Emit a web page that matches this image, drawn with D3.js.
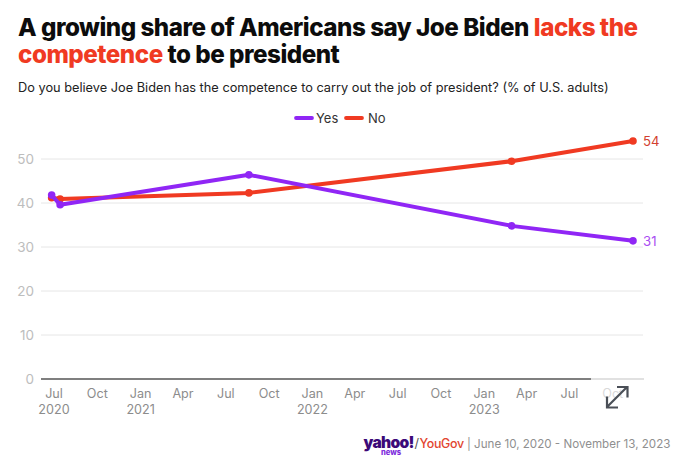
<!DOCTYPE html>
<html><head><meta charset="utf-8">
<script src="https://cdn.jsdelivr.net/npm/d3@7/dist/d3.min.js"></script>
<style>
html,body{margin:0;padding:0;background:#fff;overflow:hidden}
svg{display:block}
text{font-family:Inter,"Noto Sans",sans-serif}
</style></head><body><svg id="c" width="690" height="470"></svg>
<script>
const dates = ["2020-06-26","2020-07-14","2021-08-19","2023-02-28","2023-11-13"];
const yesValues = [41.8,39.6,46.4,34.8,31.4];
const noValues = [41.2,40.9,42.3,49.5,54.1];
const yTicks = [0,10,20,30,40,50];
const xTickDates = ["2020-07-01","2020-10-01","2021-01-01","2021-04-01","2021-07-01","2021-10-01","2022-01-01","2022-04-01","2022-07-01","2022-10-01","2023-01-01","2023-04-01","2023-07-01","2023-10-01"];
const xTickMonths = ["Jul","Oct","Jan","Apr","Jul","Oct","Jan","Apr","Jul","Oct","Jan","Apr","Jul","Oct"];
const xTickYears = ["2020","","2021","","","","2022","","","","2023","","",""];
const seriesNames = ["Yes","No"];
const seriesColors = ["#9026f5","#f03a22"];
const labelColors = ["#a94cf2","#d23f30"];

const svg = d3.select("#c");
const parse = d3.utcParse("%Y-%m-%d");
const x = d3.scaleUtc().domain([parse("2020-07-01"),parse("2023-11-13")]).range([54,633]);
const y = d3.scaleLinear().domain([0,50]).range([379,159]);

// title
const t1 = svg.append("text").attr("x",18).attr("y",36).attr("font-size",24.2).attr("font-weight",800).attr("letter-spacing",-0.49).attr("fill","#0c0c0c");
t1.append("tspan").text("A growing share of Americans say Joe Biden ");
t1.append("tspan").attr("fill","#f03a22").text("lacks the");
const t2 = svg.append("text").attr("x",18).attr("y",62.5).attr("font-size",24.2).attr("font-weight",800).attr("letter-spacing",-0.49).attr("fill","#0c0c0c");
t2.append("tspan").attr("fill","#f03a22").text("competence");
t2.append("tspan").text(" to be president");
svg.append("text").attr("x",18).attr("y",91.5).attr("font-size",12.78).attr("fill","#222")
  .text("Do you believe Joe Biden has the competence to carry out the job of president? (% of U.S. adults)");

// legend
const lx = [296,346], ltx=[316,368];
seriesNames.forEach((n,i)=>{
  svg.append("line").attr("x1",lx[i]).attr("x2",lx[i]+16).attr("y1",118).attr("y2",118)
    .attr("stroke",seriesColors[i]).attr("stroke-width",3.8).attr("stroke-linecap","round");
  svg.append("text").attr("x",ltx[i]).attr("y",122.5).attr("font-size",13).attr("fill","#333").text(n);
});

// grid
const gridG = svg.append("g");
gridG.selectAll("line").data(yTicks.filter(d=>d>0)).join("line")
  .attr("x1",41).attr("x2",643).attr("y1",d=>y(d)).attr("y2",d=>y(d))
  .attr("stroke","#e6e6e6").attr("stroke-width",1);
svg.append("g").selectAll("text").data(yTicks).join("text")
  .attr("x",34).attr("y",d=>y(d)+5).attr("text-anchor","end").attr("font-size",13.5).attr("fill","#bdbdbd").text(d=>d);

// baseline
svg.append("line").attr("x1",41).attr("x2",591).attr("y1",y(0)).attr("y2",y(0)).attr("stroke","#555").attr("stroke-width",1.4);
svg.append("line").attr("x1",591).attr("x2",644).attr("y1",y(0)).attr("y2",y(0)).attr("stroke","#c4c4c4").attr("stroke-width",1.2);

// x ticks
xTickDates.forEach((d,i)=>{
  const px = x(parse(d));
  svg.append("text").attr("x",px).attr("y",398).attr("text-anchor","middle").attr("font-size",12.6)
    .attr("fill", i===13 ? "#d9d9d9" : "#8c8c8c").text(xTickMonths[i]);
  if(xTickYears[i]) svg.append("text").attr("x",px).attr("y",414).attr("text-anchor","middle").attr("font-size",12.6).attr("fill","#8c8c8c").text(xTickYears[i]);
});

// lines
const dd = dates.map(parse);
const line = d3.line().x((v,i)=>x(dd[i])).y(v=>y(v));
[[noValues,1],[yesValues,0]].forEach(([vals,i])=>{
  const g = svg.append("g");
  g.append("path").attr("d",line(vals)).attr("fill","none").attr("stroke",seriesColors[i]).attr("stroke-width",4).attr("stroke-linejoin","round");
  g.selectAll("circle").data(vals).join("circle").attr("cx",(v,j)=>x(dd[j])).attr("cy",v=>y(v)).attr("r",3.8).attr("fill",seriesColors[i]);
  svg.append("text").attr("x",643).attr("y",y(vals[vals.length-1])+5).attr("font-size",13.2).attr("fill",labelColors[i]).text(Math.round(vals[vals.length-1]));
});

// expand icon
svg.append("path").attr("d","M607 407L627 387M617 387H627.5V397.5M607 396.5V407.5H618")
  .attr("fill","none").attr("stroke","#4a4f57").attr("stroke-width",2.2);

// footer
svg.append("text").attr("x",363.5).attr("y",448).attr("font-size",15.6).attr("font-weight",900).attr("letter-spacing",-0.7).attr("fill","#3c0a78").text("yahoo!");
svg.append("text").attr("x",381).attr("y",454.5).attr("font-size",7.6).attr("font-weight",800).attr("fill","#7d2bdc").text("news");
svg.append("text").attr("x",414.5).attr("y",447.5).attr("font-size",12.6).attr("fill","#555").text("/");
svg.append("text").attr("x",419.5).attr("y",447.5).attr("font-size",12.4).attr("font-weight",500).attr("letter-spacing",-0.3).attr("fill","#e2452f").text("YouGov");
svg.append("text").attr("x",467).attr("y",447.5).attr("font-size",11.6).attr("fill","#8f8f8f").text("| June 10, 2020 - November 13, 2023");
</script></body></html>
